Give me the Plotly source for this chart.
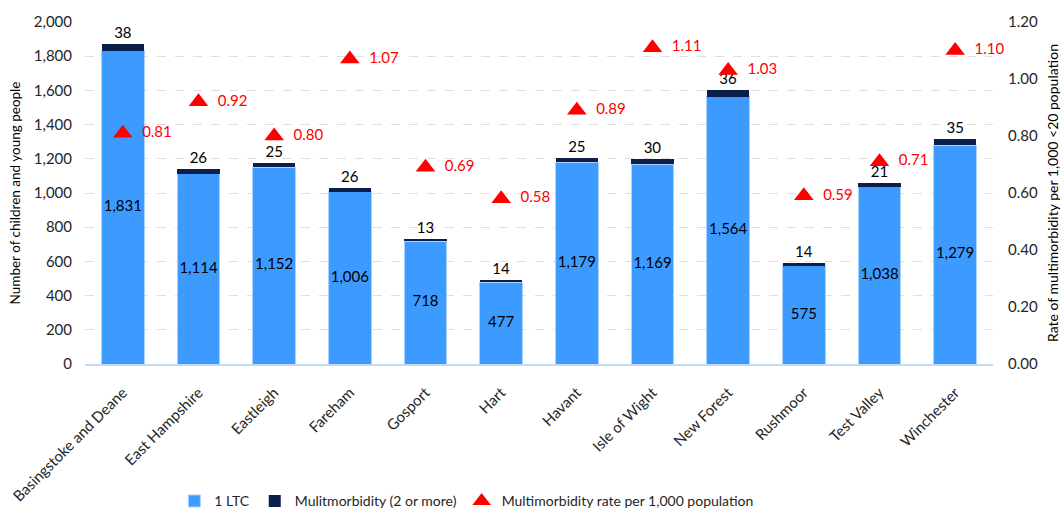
import plotly.graph_objects as go

# Districts and counts of children and young people with long-term conditions
districts = ["Basingstoke and Deane", "East Hampshire", "Eastleigh", "Fareham", "Gosport",
             "Hart", "Havant", "Isle of Wight", "New Forest", "Rushmoor", "Test Valley",
             "Winchester"]
one_ltc = [1831, 1114, 1152, 1006, 718, 477, 1179, 1169, 1564, 575, 1038, 1279]
multimorbidity = [38, 26, 25, 26, 13, 14, 25, 30, 36, 14, 21, 35]
rate_per_1000 = [0.81, 0.92, 0.80, 1.07, 0.69, 0.58, 0.89, 1.11, 1.03, 0.59, 0.71, 1.10]

FONT = "Lato, 'Open Sans', sans-serif"
TEXT = "#262626"

fig = go.Figure()

fig.add_trace(go.Bar(
    x=districts, y=one_ltc, name="1 LTC",
    marker=dict(color="#3d9bff", line=dict(color="#a9d2ff", width=1)),
    yaxis="y",
))

fig.add_trace(go.Bar(
    x=districts, y=multimorbidity, name="Mulitmorbidity (2 or more)",
    marker=dict(color="#0c1f4a", line=dict(color="#0c1f4a", width=0)),
    text=[f"{v:,}" for v in multimorbidity], textposition="outside",
    textangle=0, cliponaxis=False,
    textfont=dict(color="#000000", size=15, family=FONT),
    yaxis="y",
))

# Value labels centred in the 1 LTC segment, kept at full size
fig.add_trace(go.Scatter(
    x=districts, y=[v / 2 for v in one_ltc], mode="text",
    text=[f"{v:,}" for v in one_ltc], textposition="middle center",
    textfont=dict(color="#000000", size=15, family=FONT),
    showlegend=False, hoverinfo="skip", cliponaxis=False,
    yaxis="y",
))

fig.add_trace(go.Scatter(
    x=districts, y=rate_per_1000, name="Multimorbidity rate per 1,000 population",
    mode="markers+text",
    marker=dict(symbol="triangle-up", color="#ff0000", size=17),
    text=[f"  {v:.2f}" for v in rate_per_1000], textposition="middle right",
    textfont=dict(color="#ff0000", size=15, family=FONT),
    cliponaxis=False,
    yaxis="y2",
))

fig.update_layout(
    width=1061, height=508,
    margin=dict(l=85, r=68, t=22, b=144, autoexpand=False),
    paper_bgcolor="white", plot_bgcolor="white",
    font=dict(family=FONT, size=14, color=TEXT),
    barmode="stack", bargap=0.44,
    showlegend=True,
    legend=dict(orientation="h", x=0.42, xanchor="center",
                y=-0.355, yanchor="top",
                font=dict(size=14, color=TEXT), itemwidth=30, traceorder="normal"),
    xaxis=dict(
        range=[-0.5, len(districts) - 0.5],
        tickangle=-45, showgrid=False, ticks="", automargin=False,
        showline=True, linecolor="#c5dcf5", linewidth=2, ticklabelstandoff=12,
        tickfont=dict(size=15, color=TEXT),
    ),
    yaxis=dict(
        range=[0, 2000], dtick=200, tickformat=",", automargin=False,
        showgrid=True, gridcolor="#dedede", griddash="dash", gridwidth=1,
        zeroline=False, ticks="", ticklabelstandoff=12,
        tickfont=dict(size=15, color=TEXT),
        title=dict(text="Number of children and young people",
                   font=dict(size=13.5, color="#000000"), standoff=10),
    ),
    yaxis2=dict(
        overlaying="y", side="right", range=[0, 1.2], dtick=0.2, tickformat=".2f",
        showgrid=False, zeroline=False, ticks="", ticklabelstandoff=14,
        automargin=False,
        tickfont=dict(size=15, color=TEXT),
        title=dict(text="Rate of multimorbidity per 1,000 <20 population",
                   font=dict(size=14, color="#000000"), standoff=12),
    ),
)

fig.write_html("out.html")
